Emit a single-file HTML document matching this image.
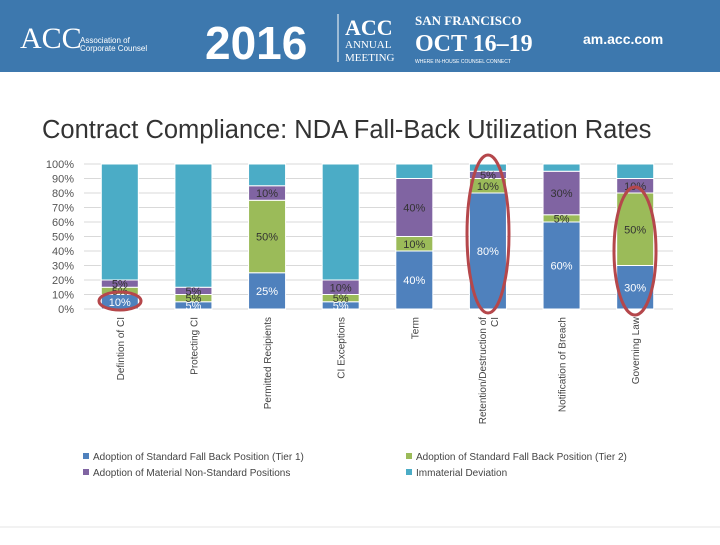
<!DOCTYPE html>
<html><head><meta charset="utf-8"><style>
body{margin:0;width:720px;height:540px;overflow:hidden;background:#fff;font-family:"Liberation Sans",sans-serif}
</style></head><body>
<svg width="720" height="540" viewBox="0 0 720 540" xmlns="http://www.w3.org/2000/svg" font-family="Liberation Sans, sans-serif">
<g>
<rect x="0" y="0" width="720" height="72" fill="#3d78ae"/>
<text x="20" y="48" font-size="30" fill="#fff" font-family="Liberation Serif, serif">ACC</text>
<text x="80" y="43" font-size="8" fill="#fff">Association of</text>
<text x="80" y="51" font-size="8" fill="#fff">Corporate Counsel</text>
<text x="205" y="59" font-size="46" font-weight="bold" fill="#fff">2016</text>
<line x1="338" y1="14" x2="338" y2="62" stroke="#fff"/>
<text x="345" y="35" font-size="22" font-weight="bold" fill="#fff" font-family="Liberation Serif, serif">ACC</text>
<text x="345" y="48" font-size="11" fill="#fff" font-family="Liberation Serif, serif">ANNUAL</text>
<text x="345" y="61" font-size="11" fill="#fff" font-family="Liberation Serif, serif">MEETING</text>
<text x="415" y="25" font-size="13" font-weight="bold" fill="#fff" font-family="Liberation Serif, serif">SAN FRANCISCO</text>
<text x="415" y="51" font-size="24" font-weight="bold" fill="#fff" font-family="Liberation Serif, serif">OCT 16–19</text>
<text x="415" y="63" font-size="5" fill="#fff">WHERE IN-HOUSE COUNSEL CONNECT</text>
<text x="583" y="44" font-size="14" font-weight="bold" fill="#fff">am.acc.com</text>
</g>
<text x="42" y="138" font-size="25.5" fill="#333">Contract Compliance: NDA Fall-Back Utilization Rates</text>
<g id="grid"></g><g id="bars"></g><g id="labels"></g>
<g fill="none" stroke="#b5474b" stroke-width="3">
<ellipse cx="120" cy="301" rx="21" ry="9"/>
<ellipse cx="488" cy="234" rx="21" ry="79"/>
<ellipse cx="635" cy="251" rx="21" ry="64"/>
</g>
<g font-size="10" fill="#444">
<rect x="83" y="453" width="6" height="6" fill="#4f81bd"/><text x="93" y="460">Adoption of Standard Fall Back Position (Tier 1)</text>
<rect x="83" y="469" width="6" height="6" fill="#8064a2"/><text x="93" y="476">Adoption of Material Non-Standard Positions</text>
<rect x="406" y="453" width="6" height="6" fill="#9bbb59"/><text x="416" y="460">Adoption of Standard Fall Back Position (Tier 2)</text>
<rect x="406" y="469" width="6" height="6" fill="#4bacc6"/><text x="416" y="476">Immaterial Deviation</text>
</g>
<line x1="0" y1="527" x2="720" y2="527" stroke="#e4e4e4"/>
</svg>
<script>
const categories=["Defintion of CI","Protecting CI","Permitted Recipients","CI Exceptions","Term","Retention/Destruction of|CI","Notification of Breach","Governing Law"];
const tier1=[10,5,25,5,40,80,60,30];
const tier2=[5,5,50,5,10,10,5,50];
const material=[5,5,10,10,40,5,30,10];
const immaterial=[80,85,15,80,10,5,5,10];
const yTicks=[0,10,20,30,40,50,60,70,80,90,100];
const NS="http://www.w3.org/2000/svg";
const y0=309,y100=164,xL=84,xR=673;
const y=v=>y0-(y0-y100)*v/100;
const step=(xR-xL)/categories.length;
const xc=i=>xL+step*(i+0.5)-1;
const bw=37;
function mk(t,a,p){const e=document.createElementNS(NS,t);for(const k in a)e.setAttribute(k,a[k]);p.appendChild(e);return e;}
const grid=document.getElementById('grid'),bars=document.getElementById('bars'),labels=document.getElementById('labels');
yTicks.forEach(t=>{
 const l=mk('line',{x1:xL,x2:xR,y1:y(t),y2:y(t),stroke:'#d9d9d9'},grid);
 
 
 const tx=mk('text',{x:74,y:y(t)+4,'font-size':11,fill:'#555','text-anchor':'end'},grid);
 tx.textContent=t+'%';
 
 
});
const series=[[tier1,'#4f81bd','#fff','tier1'],[tier2,'#9bbb59','#333','tier2'],[material,'#8064a2','#333','material'],[immaterial,'#4bacc6',null,'immaterial']];
categories.forEach((c,i)=>{
 let acc=0;
 series.forEach(([arr,col,tc,nm])=>{
  const v=arr[i];const top=y(acc+v),bot=y(acc);
  const r=mk('rect',{x:xc(i)-bw/2,y:top,width:bw,height:bot-top,fill:col,stroke:'#fff','stroke-width':1},bars);
  
  
  if(tc){const t=mk('text',{x:xc(i),y:(top+bot)/2+4,'font-size':11,fill:tc,'text-anchor':'middle'},labels);t.textContent=v+'%';
   
   }
  acc+=v;
 });
 const parts=c.split('|');
 parts.forEach((p,j)=>{
  const off=(j-(parts.length-1)/2)*12;
  const t=mk('text',{transform:`translate(${xc(i)+4+off},317) rotate(-90)`,'font-size':10,fill:'#444','text-anchor':'end'},labels);
  t.textContent=p;
  
  
 });
});
</script>
</body></html>
